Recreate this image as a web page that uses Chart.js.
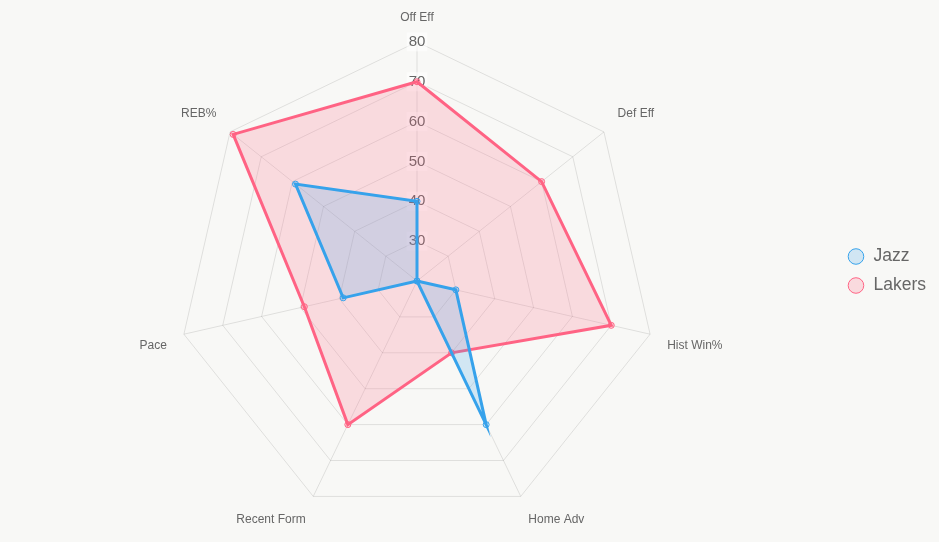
<!DOCTYPE html>
<html lang="en">
<head>
    <meta charset="UTF-8">
    <title>Jazz vs Lakers</title>
    <script src="https://cdn.jsdelivr.net/npm/chart.js"></script>
    <style>
        html, body { margin: 0; padding: 0; background: #f8f8f6; }
        #wrap { width: 939px; height: 542px; position: relative; }
    </style>
</head>
<body>
    <div id="wrap"><canvas id="radarChart"></canvas></div>

    <script>
        // Categories and values
        const categories = ['Off Eff', 'Def Eff', 'Hist Win%', 'Home Adv', 'Recent Form', 'Pace', 'REB%'];
        const jazzValues = [40, 20, 30, 60, 20, 39, 59];
        const lakersValues = [70, 60, 70, 40, 60, 49, 79];
        const scaleMin = 20;
        const scaleMax = 80;

        const ctx = document.getElementById('radarChart').getContext('2d');
        new Chart(ctx, {
            type: 'radar',
            data: {
                labels: categories,
                datasets: [
                    {
                        label: 'Jazz',
                        data: jazzValues,
                        borderColor: 'rgb(54, 162, 235)',
                        backgroundColor: 'rgba(54, 162, 235, 0.2)',
                        borderWidth: 3,
                        pointRadius: 3,
                        pointBorderWidth: 1
                    },
                    {
                        label: 'Lakers',
                        data: lakersValues,
                        borderColor: 'rgb(255, 99, 132)',
                        backgroundColor: 'rgba(255, 99, 132, 0.2)',
                        borderWidth: 3,
                        pointRadius: 3,
                        pointBorderWidth: 1
                    }
                ]
            },
            options: {
                responsive: true,
                maintainAspectRatio: false,
                animation: false,
                layout: {
                    padding: { right: 3 }
                },
                plugins: {
                    legend: {
                        position: 'right',
                        labels: {
                            usePointStyle: true,
                            pointStyle: 'circle',
                            boxHeight: 11,
                            padding: 11.5,
                            color: '#666',
                            font: { size: 17.5 }
                        }
                    }
                },
                scales: {
                    r: {
                        min: scaleMin,
                        max: scaleMax,
                        ticks: {
                            stepSize: 10,
                            color: '#666',
                            font: { size: 15 },
                            backdropColor: 'rgba(255, 255, 255, 0.5)'
                        },
                        pointLabels: {
                            color: '#666',
                            padding: 8,
                            font: { size: 12 }
                        }
                    }
                }
            }
        });
    </script>
</body>
</html>
